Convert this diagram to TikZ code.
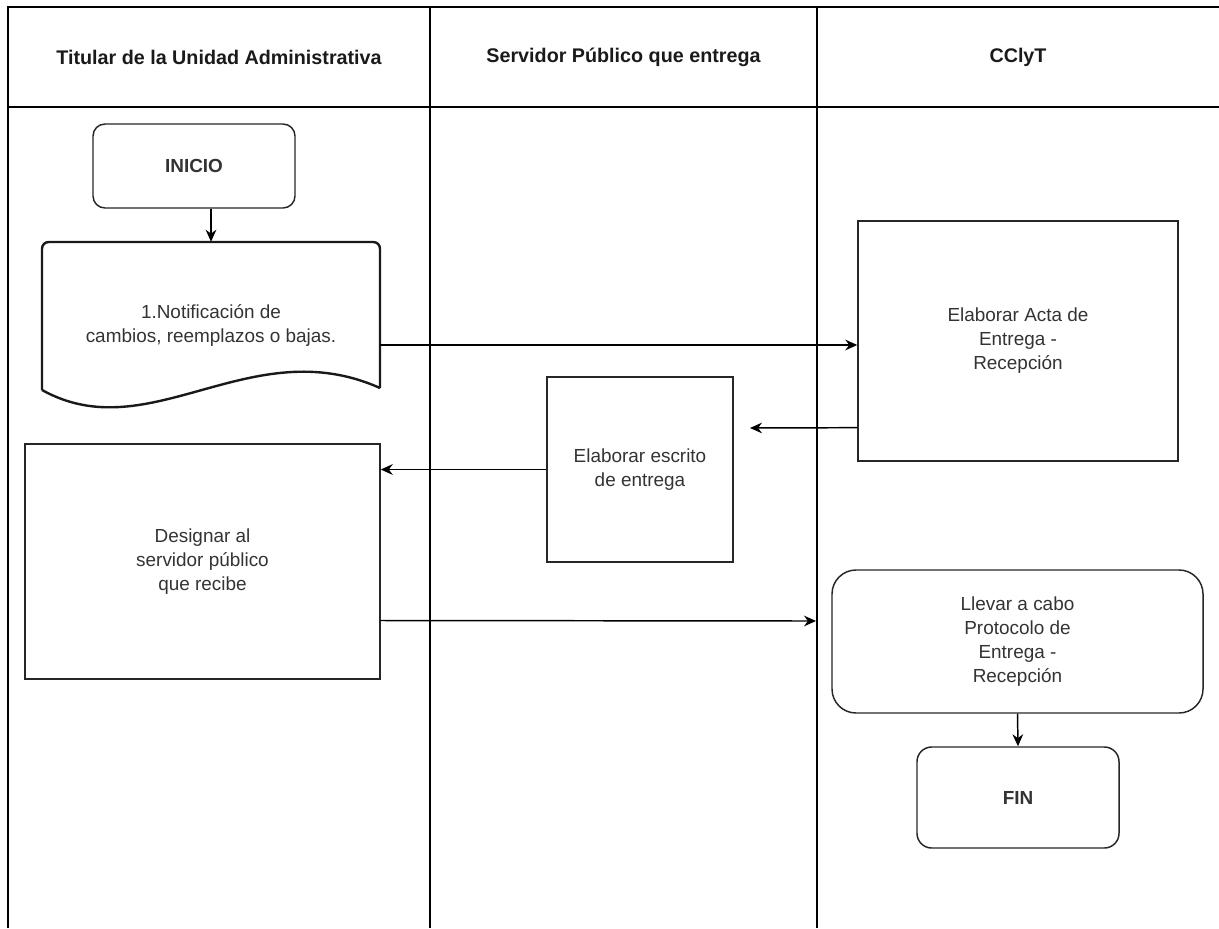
\documentclass[tikz,border=0pt]{standalone}
\usepackage{fontspec}
\setmainfont{Liberation Sans}
\usetikzlibrary{arrows.meta,calc}
\definecolor{txt}{HTML}{333333}
\definecolor{hdr}{HTML}{1A1A1A}
\begin{document}
\begin{tikzpicture}[x=0.75pt,y=-0.75pt,
  sz/.style 2 args={minimum width=#1*0.75pt, minimum height=#2*0.75pt, inner sep=0pt},
  lane/.style={line width=1.1pt, draw=black},
  hdrtext/.style={font=\fontsize{14.8}{18}\selectfont\bfseries, text=hdr},
  body/.style={font=\fontsize{14.2}{18}\selectfont, text=txt, align=center},
  proc/.style={draw=black!85, line width=1.1pt, body},
  term/.style={proc, rounded corners=#1},
  arr/.style={line width=1.1pt, -{Stealth[length=9pt,width=8pt]}}]
\useasboundingbox (0,0) rectangle (1219,928);

% swimlane frame
\draw[lane] (8,928) -- (8,7) -- (1219,7);
\draw[lane] (8,107) -- (1219,107);
\draw[lane] (430,7) -- (430,928);
\draw[lane] (817,7) -- (817,928);

% lane titles
\node[hdrtext] (h1) at (219,57) {Titular de la Unidad Administrativa};
\node[hdrtext] (h2) at (623.5,57) {Servidor Público que entrega};
\node[hdrtext] (h3) at (1018,57) {CClyT};

% process nodes
\node[term=9pt, sz={202}{84}, font=\fontsize{14.2}{18}\selectfont\bfseries] (inicio) at (194,166) {INICIO};
\node[body, sz={338}{166}] (doc) at (211,325) {1.Notificación de\\cambios, reemplazos o bajas.};
\draw[line width=1.8pt, draw=black!90, rounded corners=5pt]
  (42,390) -- (42,242) -- (380,242) -- (380,388);
\draw[line width=1.8pt, draw=black!90]
  (380,388) .. controls (250,330) and (150,450) .. (42,390);

\node[proc, sz={320}{240}] (acta) at (1018,341) {Elaborar Acta de\\Entrega -\\Recepción};
\node[proc, sz={186}{185}] (escrito) at (640,469.5) {Elaborar escrito\\de entrega};
\node[proc, sz={355}{235}] (designar) at (202.5,561.5) {Designar al\\servidor público\\que recibe};
\node[term=18pt, sz={371}{143}] (llevar) at (1017.5,641.5) {Llevar a cabo\\Protocolo de\\Entrega -\\Recepción};
\node[term=11pt, sz={202}{101}, font=\fontsize{14.2}{18}\selectfont\bfseries] (fin) at (1018,797.5) {FIN};

% free ends of connectors
\coordinate (d1) at ([yshift=-15pt]doc.east);
\coordinate (a1) at ([yshift=-65pt]acta.west);
\coordinate (e1) at (750,428);
\coordinate (g1) at ([yshift=-44.25pt]designar.east);
\coordinate (f1) at (816,621);

% connectors
\draw[arr] (inicio.south -| doc.north) -- (doc.north);
\draw[arr] (d1) -- (d1 -| acta.west);
\draw[arr] (a1) -- (e1);
\draw[arr] (escrito.west) -- (escrito.west -| designar.east);
\draw[arr] (g1) -- (f1);
\draw[arr] (llevar.south) -- (fin.north);
\end{tikzpicture}
\end{document}
